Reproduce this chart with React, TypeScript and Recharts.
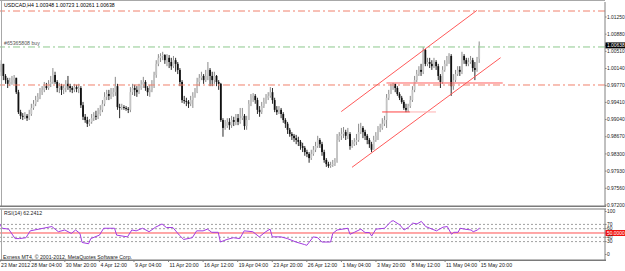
import { ComposedChart, Bar, Line, XAxis, YAxis, ReferenceLine } from 'recharts'

const FONT = "'Liberation Sans', Arial, sans-serif"

// USDCAD H4 candles, 23 Mar 2012 .. 15 May 2012 (open = previous close)
const firstOpen = 1.0007
const closes = [
  1.0024, 0.9998, 0.9989, 0.9981, 0.9985, 0.9989, 0.9994, 0.9963, 0.992, 0.9912,
  0.991, 0.9912, 0.9907, 0.9916, 0.9929, 0.9938, 0.9946, 0.9953, 0.9963, 0.9968,
  0.9976, 0.9972, 0.9981, 0.9985, 1.0, 0.9985, 0.9972, 0.9976, 0.9968, 0.9972,
  0.9981, 0.9976, 0.9972, 0.9968, 0.9974, 0.997, 0.9972, 0.9935, 0.991, 0.9903,
  0.9895, 0.9899, 0.9907, 0.9912, 0.991, 0.9916, 0.9925, 0.9938, 0.9953, 0.9959,
  0.9955, 0.9959, 0.9963, 0.9976, 0.9931, 0.9929, 0.9931, 0.9929, 0.9927, 0.9925,
  0.9963, 0.9972, 0.9968, 0.9963, 0.9972, 0.9979, 0.9985, 0.9972, 0.9963, 0.9968,
  0.9976, 1.0, 1.0024, 1.0037, 1.0041, 1.0043, 1.0032, 1.0037, 1.0028, 1.0019,
  1.0032, 1.0024, 1.0011, 0.9985, 0.9946, 0.9944, 0.9942, 0.9938, 0.9946, 0.9955,
  0.9963, 0.9985, 0.9994, 0.9998, 0.9989, 0.9998, 1.0011, 0.9998, 0.9989, 0.9998,
  0.9985, 0.9981, 0.9903, 0.9886, 0.989, 0.9899, 0.9892, 0.9903, 0.9899, 0.9907,
  0.9899, 0.9907, 0.9912, 0.989, 0.9903, 0.9938, 0.9951, 0.9955, 0.9946, 0.9925,
  0.992, 0.9933, 0.9942, 0.9951, 0.9955, 0.9963, 0.9946, 0.9925, 0.992, 0.9925,
  0.9916, 0.9903, 0.9895, 0.9882, 0.9873, 0.9869, 0.9864, 0.986, 0.9856, 0.9847,
  0.9843, 0.9834, 0.983, 0.9821, 0.983, 0.9839, 0.9847, 0.986, 0.9851, 0.9834,
  0.9817, 0.9808, 0.9804, 0.9806, 0.9808, 0.9813, 0.986, 0.9869, 0.9873, 0.9877,
  0.9869, 0.9873, 0.9847, 0.9851, 0.9856, 0.986, 0.9877, 0.9886, 0.9877, 0.9869,
  0.986, 0.9851, 0.9839, 0.986, 0.9869, 0.9882, 0.9886, 0.9895, 0.9903, 0.9951,
  0.9959, 0.9976, 0.9981, 0.9972, 0.9959, 0.9951, 0.9942, 0.9929, 0.9925, 0.9933,
  0.9946, 0.9968, 0.9989, 1.0002, 1.0011, 1.0007, 1.0054, 1.0024, 1.0028, 1.0024,
  1.0019, 1.0028, 1.0019, 0.9998, 0.9985, 1.0011, 1.0024, 1.0032, 1.0041, 0.9976,
  0.9989, 1.0002, 1.0011, 1.0007, 1.0041, 1.0032, 1.0024, 1.0028, 1.0032, 1.0015,
  1.0011, 1.0035, 1.00638,
]
const highs = [
  1.0032, 1.0024, 1.0002, 0.9994, 0.9994, 0.9998, 1.0, 0.9994, 0.9968, 0.9925,
  0.9918, 0.992, 0.9916, 0.9925, 0.9938, 0.9946, 0.9955, 0.9961, 0.9972, 0.9976,
  0.9985, 0.9983, 0.9989, 0.9998, 1.0015, 1.0007, 0.9989, 0.9983, 0.9981, 0.9979,
  0.9989, 0.9998, 0.9981, 0.9976, 0.9981, 0.9979, 0.9981, 0.9976, 0.9942, 0.9916,
  0.991, 0.9905, 0.9916, 0.992, 0.9923, 0.9929, 0.9935, 0.9946, 0.9963, 0.9968,
  0.9968, 0.9972, 0.9972, 0.9996, 0.9981, 0.9938, 0.9938, 0.9935, 0.9933, 0.9931,
  0.9974, 0.9981, 0.9979, 0.9976, 0.9981, 0.9989, 0.9996, 0.9989, 0.9976, 0.9979,
  0.9989, 1.0007, 1.0032, 1.0045, 1.0047, 1.005, 1.0045, 1.0045, 1.0043, 1.0037,
  1.0041, 1.0037, 1.0028, 1.0015, 0.9989, 0.9955, 0.9951, 0.9946, 0.9955, 0.9963,
  0.9972, 0.9994, 1.0002, 1.0007, 1.0002, 1.0011, 1.0028, 1.0015, 1.0007, 1.0007,
  1.0, 0.9989, 0.9983, 0.9907, 0.9903, 0.9907, 0.9907, 0.9912, 0.991, 0.9916,
  0.9916, 0.9929, 0.9929, 0.9916, 0.9912, 0.9946, 0.9959, 0.9961, 0.9959, 0.9951,
  0.9933, 0.9942, 0.9951, 0.9959, 0.9963, 0.9974, 0.9972, 0.9951, 0.9933, 0.9933,
  0.9929, 0.992, 0.9907, 0.9899, 0.9886, 0.9877, 0.9873, 0.9871, 0.9867, 0.986,
  0.9854, 0.9847, 0.9839, 0.9834, 0.9839, 0.9847, 0.9856, 0.9869, 0.9864, 0.9856,
  0.9839, 0.9821, 0.9813, 0.9813, 0.9817, 0.9821, 0.9873, 0.9877, 0.9886, 0.9888,
  0.9882, 0.9886, 0.9877, 0.986, 0.9864, 0.9873, 0.9895, 0.9897, 0.989, 0.9882,
  0.9873, 0.9864, 0.9856, 0.9869, 0.9877, 0.989, 0.9895, 0.9907, 0.9912, 0.9959,
  0.9968, 0.9981, 0.9983, 0.9981, 0.9976, 0.9963, 0.9955, 0.9946, 0.9938, 0.9938,
  0.9955, 0.9976, 0.9998, 1.0011, 1.0019, 1.0024, 1.006, 1.0056, 1.0037, 1.0037,
  1.0032, 1.0037, 1.0032, 1.0024, 1.0002, 1.0019, 1.0032, 1.0041, 1.0047, 1.0045,
  1.0002, 1.0011, 1.0019, 1.0019, 1.005, 1.0045, 1.0037, 1.0037, 1.0041, 1.0037,
  1.0028, 1.0039, 1.00723,
]
const lows = [
  0.9998, 0.9989, 0.9981, 0.9972, 0.9976, 0.9979, 0.9981, 0.9959, 0.9916, 0.9905,
  0.9903, 0.9905, 0.9901, 0.9903, 0.9912, 0.9925, 0.9933, 0.9942, 0.9948, 0.9957,
  0.9963, 0.9968, 0.9968, 0.9974, 0.9981, 0.9981, 0.9963, 0.9961, 0.9957, 0.9959,
  0.9963, 0.9968, 0.9963, 0.9961, 0.9963, 0.9963, 0.9961, 0.9929, 0.9903, 0.9897,
  0.9888, 0.989, 0.9895, 0.9901, 0.9903, 0.9905, 0.9912, 0.992, 0.9933, 0.9946,
  0.9946, 0.9948, 0.9953, 0.9955, 0.9925, 0.9907, 0.9925, 0.9925, 0.9923, 0.9918,
  0.992, 0.9957, 0.9955, 0.9953, 0.9959, 0.9968, 0.9972, 0.9966, 0.9955, 0.9953,
  0.9963, 0.9972, 0.9994, 1.0019, 1.0028, 1.0032, 1.0024, 1.0019, 1.0015, 1.0011,
  1.0015, 1.0007, 1.0002, 0.9976, 0.994, 0.9938, 0.9933, 0.9929, 0.9933, 0.9929,
  0.9951, 0.9961, 0.9976, 0.9989, 0.9981, 0.9985, 0.9989, 0.9976, 0.9976, 0.9981,
  0.9976, 0.9968, 0.9899, 0.9867, 0.9882, 0.9886, 0.9882, 0.9886, 0.989, 0.9892,
  0.9892, 0.9895, 0.9903, 0.9882, 0.9882, 0.9903, 0.9933, 0.9942, 0.9938, 0.9916,
  0.991, 0.9916, 0.9929, 0.9938, 0.9946, 0.9951, 0.9938, 0.992, 0.9914, 0.9916,
  0.9907, 0.9897, 0.9886, 0.9873, 0.9867, 0.986, 0.9856, 0.9851, 0.9847, 0.9839,
  0.9834, 0.9826, 0.9823, 0.9811, 0.9817, 0.9826, 0.9834, 0.9843, 0.9843, 0.9826,
  0.9811, 0.9802, 0.98, 0.98, 0.9802, 0.9804, 0.9811, 0.9856, 0.986, 0.9864,
  0.986, 0.9862, 0.9839, 0.9843, 0.9847, 0.9849, 0.9856, 0.9873, 0.9864, 0.986,
  0.9851, 0.9843, 0.9834, 0.9839, 0.9856, 0.986, 0.9877, 0.9882, 0.989, 0.9886,
  0.9946, 0.9959, 0.9968, 0.9963, 0.9955, 0.9946, 0.9938, 0.9925, 0.992, 0.992,
  0.9929, 0.9942, 0.9963, 0.9985, 0.9998, 0.9998, 1.0002, 1.0019, 1.0019, 1.0015,
  1.0011, 1.0015, 1.0011, 0.9989, 0.9972, 0.9981, 1.0007, 1.0019, 1.0024, 0.9955,
  0.9968, 0.9985, 0.9998, 0.9998, 1.0002, 1.0024, 1.0019, 1.0019, 1.0024, 1.0007,
  0.9989, 1.0007, 1.00261,
]

// RSI(14): [bar index, value]
const rsiPoints: [number, number][] = [
  [0, 70.7], [1, 61], [4, 59], [7, 37], [9, 37], [12, 39], [14, 55], [20, 61], [24, 65], [27, 53],
  [30, 57], [33, 49], [35, 57], [37, 49], [38, 28], [41, 25], [42, 37], [46, 45], [48, 61], [53, 61],
  [54, 45], [59, 41], [61, 57], [63, 55], [66, 61], [69, 53], [72, 63.5], [75, 71], [77, 62.7], [80, 62.7],
  [83, 45], [85, 35], [89, 39], [91, 55], [94, 55], [96, 59], [98, 51.6], [101, 51.6], [102, 29], [105, 35],
  [108, 39], [111, 37], [113, 55], [117, 53], [120, 41], [123, 53], [125, 59], [126, 41], [130, 41], [133, 37],
  [137, 29], [141, 23], [142, 21.4], [145, 41], [147, 39], [149, 29], [153, 29], [154, 49], [156, 57], [161, 61],
  [162, 47], [164, 51.6], [167, 59], [169, 51], [171, 51], [172, 43], [174, 59], [178, 61], [181, 77], [182, 78.6],
  [185, 69], [187, 57], [189, 63], [191, 73], [193, 71], [195, 77], [197, 65], [199, 61], [202, 55], [205, 63.5],
  [207, 65], [209, 47], [210, 51.6], [212, 51.6], [213, 61], [215, 59], [218, 57], [219, 53], [221, 57], [222, 62.24],
]

const priceTicks = [1.0125, 1.0088, 1.0051, 1.0014, 0.9977, 0.9941, 0.9904, 0.9867, 0.983, 0.9793, 0.9756, 0.972]
const lastPrice = 1.00638
const rsiTicks = [100, 70, 60, 50, 40, 30, 0]
const rsiLevels = [70, 60, 40, 30]
const timeTickIdx = [0, 14, 30, 46, 62, 78, 94, 110, 126, 142, 158, 174, 190, 206, 222]
const timeLabels = [
  '23 Mar 2012', '28 Mar 04:00', '30 Mar 20:00', '4 Apr 12:00', '9 Apr 04:00', '11 Apr 20:00',
  '16 Apr 12:00', '19 Apr 04:00', '23 Apr 20:00', '26 Apr 12:00', '1 May 04:00', '3 May 20:00',
  '8 May 12:00', '11 May 04:00', '15 May 20:00',
]

// chart objects drawn on the price window
const dashLevels = [
  { y: 1.01379, color: '#f0806c' },
  { y: 1.00604, color: '#8cc88c' },
  { y: 0.99785, color: '#f0806c' },
]
const trendLines = [
  { from: [158, 0.99212], to: [221, 1.01392], color: '#ff5a5a' },
  { from: [163, 0.98012], to: [232, 1.00373], color: '#ff5a5a' },
  { from: [177, 0.99204], to: [190, 0.99204], color: '#ff4040' },
  { from: [190, 0.99204], to: [202, 0.99204], color: '#ffb0b0' },
  { from: [179, 0.99828], to: [233, 0.99828], color: '#ff6060' },
]

const SLOTS = 281
const AXIS_FONT = 4.9

const data = Array.from({ length: SLOTS }, (_, i) => {
  const rp = rsiPoints.find((p) => p[0] === i)
  if (i >= closes.length) return { i }
  const open = i === 0 ? firstOpen : closes[i - 1]
  const close = closes[i]
  const high = Math.max(highs[i], open, close)
  const low = Math.min(lows[i], open, close)
  return { i, open, close, high, low, range: [low, high], rsi: rp ? rp[1] : null }
})

const Candle = (props: any) => {
  const { x, y, width, height, payload } = props
  if (!payload || payload.high == null) return null
  const top = Math.min(y, y + height)
  const h = Math.abs(height)
  const span = payload.high - payload.low || 1e-9
  const py = (v: number) => top + ((payload.high - v) / span) * h
  const cx = x + width / 2
  const up = payload.close >= payload.open
  const b1 = py(Math.max(payload.open, payload.close))
  const b2 = py(Math.min(payload.open, payload.close))
  return (
    <g>
      <line x1={cx} x2={cx} y1={top} y2={top + h} stroke={up ? '#8a8a8a' : '#2a2a2a'} strokeWidth={1} />
      <rect x={cx - 0.9} y={b1} width={1.8} height={Math.max(b2 - b1, 0.8)} fill={up ? '#c4c4c4' : '#111'} />
    </g>
  )
}

const PriceTick = ({ x, y, payload }: any) => {
  const v = payload.value
  if (v === lastPrice) {
    return (
      <g>
        <rect x={x - 1.5} y={y - 3} width={22} height={6} fill="#000" />
        <text x={x} y={y} dy="0.35em" fontSize={AXIS_FONT} fill="#fff" fontFamily={FONT}>{v.toFixed(5)}</text>
      </g>
    )
  }
  return <text x={x} y={y} dy="0.35em" fontSize={AXIS_FONT} fill="#222" fontFamily={FONT}>{v.toFixed(5)}</text>
}

const RsiTick = ({ x, y, payload }: any) => {
  const v = payload.value
  if (v === 50) {
    return (
      <g>
        <rect x={x - 1.5} y={y - 3} width={22} height={6} fill="#f01010" />
        <text x={x} y={y} dy="0.35em" fontSize={AXIS_FONT} fill="#fff" fontFamily={FONT}>50.0000</text>
      </g>
    )
  }
  return <text x={x} y={y} dy="0.35em" fontSize={AXIS_FONT} fill="#222" fontFamily={FONT}>{v}</text>
}

const TimeTick = ({ x, y, payload }: any) => {
  const k = timeTickIdx.indexOf(payload.value)
  return <text x={x + 1} y={y + 4} fontSize={5.2} fill="#222" fontFamily={FONT}>{timeLabels[k]}</text>
}

export default function App() {
  return (
    <div style={{ position: 'absolute', left: 0, top: 0, width: 625, height: 271, background: '#fff', overflow: 'hidden' }}>
      <div style={{ position: 'absolute', left: 0, top: 0 }}>
        <ComposedChart width={625} height={207} data={data} margin={{ top: 2, right: 0, bottom: 1, left: 0 }}>
          <XAxis dataKey="i" type="category" hide />
          <YAxis
            orientation="right"
            width={20}
            type="number"
            domain={[0.97178, 1.01573]}
            allowDataOverflow
            ticks={[...priceTicks, lastPrice]}
            interval={0}
            tick={<PriceTick />}
            tickSize={1.5}
            tickMargin={0.5}
            axisLine={{ stroke: '#808080' }}
            tickLine={{ stroke: '#808080' }}
          />
          {dashLevels.map((l) => (
            <ReferenceLine key={l.y} y={l.y} stroke={l.color} strokeWidth={1} strokeDasharray="7 3 2 3" />
          ))}
          <Bar dataKey="range" shape={Candle} isAnimationActive={false} />
          {trendLines.map((t, k) => (
            <ReferenceLine
              key={k}
              segment={[{ x: t.from[0], y: t.from[1] }, { x: t.to[0], y: t.to[1] }]}
              stroke={t.color}
              strokeWidth={1}
            />
          ))}
        </ComposedChart>
      </div>
      <div style={{ position: 'absolute', left: 0, top: 209 }}>
        <ComposedChart width={625} height={62} data={data} margin={{ top: 0, right: 0, bottom: 0, left: 0 }}>
          <XAxis
            dataKey="i"
            type="category"
            height={11}
            ticks={timeTickIdx}
            interval={0}
            tick={<TimeTick />}
            tickSize={2}
            tickMargin={1}
            axisLine={false}
            tickLine={{ stroke: '#808080' }}
          />
          <YAxis
            orientation="right"
            width={20}
            type="number"
            domain={[-12.8, 105.8]}
            allowDataOverflow
            ticks={rsiTicks}
            interval={0}
            tick={<RsiTick />}
            tickSize={1.5}
            tickMargin={0.5}
            axisLine={{ stroke: '#808080' }}
            tickLine={{ stroke: '#808080' }}
          />
          {rsiLevels.map((v) => (
            <ReferenceLine key={v} y={v} stroke="#a0a0a0" strokeDasharray="2 2" />
          ))}
          <ReferenceLine y={50} stroke="#ff5050" strokeWidth={1} />
          <Line
            dataKey="rsi"
            type="linear"
            stroke="#a23be0"
            strokeWidth={1}
            dot={false}
            connectNulls
            isAnimationActive={false}
          />
        </ComposedChart>
      </div>
      <svg width={625} height={271} style={{ position: 'absolute', left: 0, top: 0, pointerEvents: 'none' }}>
        <line x1={1.5} x2={1.5} y1={0} y2={206} stroke="#a8a8a8" />
        <line x1={0} x2={605} y1={0.5} y2={0.5} stroke="#a8a8a8" />
        <rect x={0} y={205.5} width={606} height={1.5} fill="#7a7a7a" />
        <rect x={0} y={208.5} width={606} height={1} fill="#7a7a7a" />
        <line x1={1.5} x2={1.5} y1={209} y2={260} stroke="#a8a8a8" />
        <rect x={0} y={259.5} width={606} height={1.5} fill="#7a7a7a" />
        <text x={4} y={6.8} fontSize={5.2} fill="#000" fontFamily={FONT}>USDCAD,H4  1.00348 1.00723 1.00261 1.00638</text>
        <text x={4} y={44.8} fontSize={5.2} fill="#555" fontFamily={FONT}>#65365808 buy</text>
        <text x={4} y={214.5} fontSize={5.2} fill="#222" fontFamily={FONT}>RSI(14) 62.2412</text>
        <text x={3} y={258.6} fontSize={5.2} fill="#222" fontFamily={FONT}>Exness MT4, © 2001-2012, MetaQuotes Software Corp.</text>
      </svg>
    </div>
  )
}
